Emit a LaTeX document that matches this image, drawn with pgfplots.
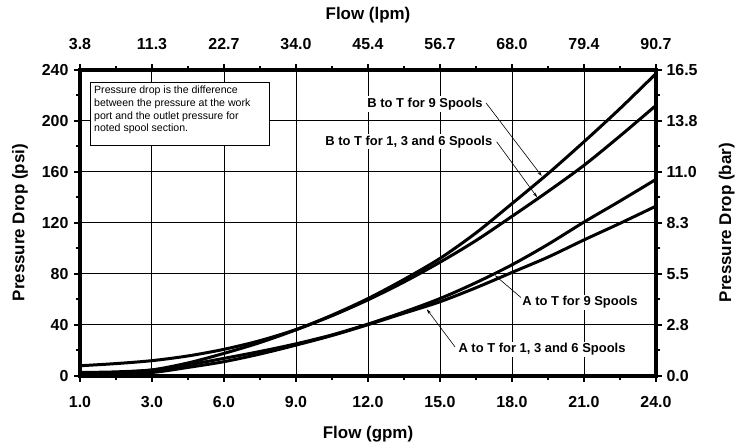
\documentclass[border=0pt]{standalone}
\usepackage{fontspec}
\setmainfont{Liberation Sans}
\usepackage{pgfplots}
\pgfplotsset{compat=1.18}
\usetikzlibrary{arrows.meta}

% curves, x in axis units (0 = 1.0 gpm label, 3 per grid step)
\newcommand{\BnineData}{(0,1.5) (1.5,2.5) (3,4.5) (4.5,10) (6,17.5) (7.5,26) (9,36) (10.5,47.5) (12,60.5) (13.5,75.5) (15,92) (16.5,112) (18,135) (19.5,158.5) (21,183.5) (22.5,209.5) (24,237)}
\newcommand{\BothData}{(0,7.8) (1.5,9.5) (3,11.8) (4.5,15.5) (6,20.7) (7.5,27.5) (9,36.2) (10.5,47) (12,59.5) (13.5,73.5) (15,89) (16.5,106) (18,125) (19.5,144.5) (21,165) (22.5,188) (24,212)}
\newcommand{\AnineData}{(0,2.5) (1.5,3) (3,4.5) (4.5,8.5) (6,13.6) (7.5,19) (9,25) (10.5,32) (12,40.5) (13.5,50) (15,60.5) (16.5,73) (18,87) (19.5,103) (21,120.5) (22.5,137) (24,154)}
\newcommand{\AotherData}{(0,0.8) (1.5,1.5) (3,2.5) (4.5,6.5) (6,11) (7.5,17) (9,24) (10.5,31.5) (12,40) (13.5,49) (15,58) (16.5,69) (18,81) (19.5,93) (21,106.5) (22.5,119.5) (24,133)}

\tikzset{
  lbl/.style={fill=white, inner sep=1.5bp, font=\bfseries\fontsize{13}{13}\selectfont},
  arr/.style={black, line width=0.6bp, -{Stealth[length=5bp,width=3bp]}},
  curve/.style={black, line width=3bp, smooth, mark=none},
}

\pgfplotsset{
  chartbase/.style={
    scale only axis, width=576bp, height=306bp,
    xmin=0, xmax=24, ymin=0, ymax=240,
    xtick={0,3,...,24}, ytick={0,40,...,240},
    minor x tick num=1, minor y tick num=1,
    tick align=outside,
    major tick length=6bp, minor tick length=4bp,
    tick style={black, line width=1.8bp},
    axis line style={line width=3.8bp},
    tick label style={font=\bfseries\fontsize{16}{16}\selectfont},
    /pgf/number format/assume math mode=true,
  },
}

\begin{document}
\begin{tikzpicture}
\useasboundingbox (-80bp,-68.3bp) rectangle (661bp,375.7bp);

\begin{axis}[chartbase,
  xtick pos=bottom, ytick pos=left,
  xticklabels={1.0,3.0,6.0,9.0,12.0,15.0,18.0,21.0,24.0},
  yticklabels={0,40,80,120,160,200,240},
  xticklabel style={yshift=-11bp},
  yticklabel style={xshift=-2bp},
]
\addplot[curve] coordinates {\BnineData};
\addplot[curve] coordinates {\BothData};
\addplot[curve] coordinates {\AnineData};
\addplot[curve] coordinates {\AotherData};

% grid as thin filled strips (black like the curves)
\pgfplotsinvokeforeach{3,6,9,12,15,18,21}{
  \fill[black] ([xshift=-0.5bp]axis cs:#1,0) rectangle ([xshift=0.5bp]axis cs:#1,240);
}
\pgfplotsinvokeforeach{40,80,120,160,200}{
  \fill[black] ([yshift=-0.5bp]axis cs:0,#1) rectangle ([yshift=0.5bp]axis cs:24,#1);
}

\draw[arr] (axis cs:16.92,213.9) -- (axis cs:19.24,156.6);
\draw[arr] (axis cs:17.36,183.5) -- (axis cs:19.05,139.9);
\draw[arr] (axis cs:18.40,60.9) -- (axis cs:17.29,78.7);
\draw[arr] (axis cs:15.63,22.5) -- (axis cs:14.45,52.1);

\node[lbl] at (axis cs:14.375,213.1) {B to T for 9 Spools};
\node[lbl] at (axis cs:13.70,183.5) {B to T for 1, 3 and 6 Spools};
\node[lbl] at (axis cs:20.83,57.3) {A to T for 9 Spools};
\node[lbl] at (axis cs:19.25,20.7) {A to T for 1, 3 and 6 Spools};

\draw[fill=white, line width=0.7bp] (axis cs:0.446,229.8) rectangle (axis cs:7.89,180.7);
\node[anchor=north west, align=left, inner sep=0pt,
      font=\fontsize{10.6}{12.7}\selectfont] at (axis cs:0.583,227.2)
  {Pressure drop is the difference\\between the pressure at the work\\port and the outlet pressure for\\noted spool section.};
\end{axis}

\begin{axis}[chartbase,
  axis x line*=top, axis y line*=right,
  xticklabels={3.8,11.3,22.7,34.0,45.4,56.7,68.0,79.4,90.7},
  yticklabels={0.0,2.8,5.5,8.3,11.0,13.8,16.5},
  xticklabel style={yshift=11bp},
  yticklabel style={xshift=1bp},
]
\end{axis}

\begin{scope}[every node/.style={font=\bfseries\fontsize{17}{17}\selectfont}]
\node at (288bp,-58.3bp) {Flow (gpm)};
\node at (288bp,360.7bp) {Flow (lpm)};
\node[rotate=90] at (-60bp,153bp) {Pressure Drop (psi)};
\node[rotate=90] at (646.7bp,153bp) {Pressure Drop (bar)};
\end{scope}
\end{tikzpicture}
\end{document}
